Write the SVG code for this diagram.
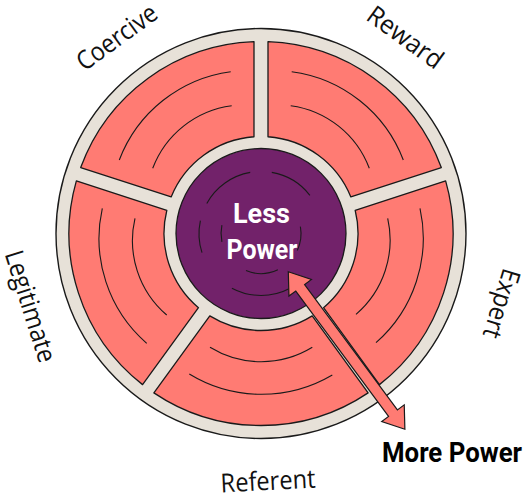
<svg xmlns="http://www.w3.org/2000/svg" width="526" height="498" viewBox="0 0 526 498">
<style>
.seg{fill:#FF7B73;stroke:#1a1a1a;stroke-width:1.3;stroke-linejoin:round}
.ln{fill:none;stroke:#1a1a1a;stroke-width:1.1}
.lbl{font-family:"Open Sans","Liberation Sans",sans-serif;font-size:26px;fill:#111;text-anchor:middle}
.big{font-family:Roboto,"Liberation Sans",sans-serif;font-weight:700;font-size:27px}
</style>
<defs>
<path id="sector" d="M -107.12 -159.34 A 192 192 0 0 1 107.12 -159.34 L 51.20 -82.39 A 97 97 0 0 0 -51.20 -82.39 Z"/>
</defs>
<rect width="526" height="498" fill="#ffffff"/>
<circle id="ring" cx="261" cy="233.5" r="205" fill="#E7E1D8" stroke="#1a1a1a" stroke-width="1.4"/>
<g id="coercive">
<use href="#sector" class="seg" transform="translate(261 233.5) rotate(-36)"/>
<path class="ln" d="M 119.3 160 A 139 139 0 0 1 230.7 71.7"/>
<path class="ln" d="M 152.7 168.3 A 98 98 0 0 1 231.7 105.7"/>
<text class="lbl" transform="translate(122 44.5) rotate(-36)" textLength="93" lengthAdjust="spacingAndGlyphs">Coercive</text>
</g>
<g id="reward">
<use href="#sector" class="seg" transform="translate(261 233.5) rotate(36)"/>
<path class="ln" d="M 291.7 71.7 A 139 139 0 0 1 403.3 160"/>
<path class="ln" d="M 290.7 105.7 A 98 98 0 0 1 369.3 168.3"/>
<text class="lbl" transform="translate(400 44.5) rotate(36)" textLength="87" lengthAdjust="spacingAndGlyphs">Reward</text>
</g>
<g id="expert">
<use href="#sector" class="seg" transform="translate(261 233.5) rotate(108)"/>
<path class="ln" d="M 420 208.3 A 139 139 0 0 1 376 342.7"/>
<path class="ln" d="M 387.7 218.3 A 98 98 0 0 1 356 314.3"/>
<text class="lbl" transform="translate(493 301) rotate(107)" textLength="71" lengthAdjust="spacingAndGlyphs">Expert</text>
</g>
<g id="referent">
<use href="#sector" class="seg" transform="translate(261 233.5) rotate(180)"/>
<path class="ln" d="M 332.3 375 A 139 139 0 0 1 189.3 374"/>
<path class="ln" d="M 312.3 347.3 A 98 98 0 0 1 210 347.3"/>
<text class="lbl" transform="translate(268.5 490) rotate(-3)" textLength="95" lengthAdjust="spacingAndGlyphs">Referent</text>
</g>
<g id="legitimate">
<use href="#sector" class="seg" transform="translate(261 233.5) rotate(252)"/>
<path class="ln" d="M 146.7 343.3 A 139 139 0 0 1 102.3 208.3"/>
<path class="ln" d="M 166.7 315 A 98 98 0 0 1 135 218.3"/>
<text class="lbl" transform="translate(22 309) rotate(72.5)" textLength="116" lengthAdjust="spacingAndGlyphs">Legitimate</text>
</g>
<g id="center">
<circle cx="261" cy="233.5" r="85" fill="#72226A" stroke="#1a1a1a" stroke-width="1.3"/>
<path class="ln" d="M 206.8 203.4 A 62 62 0 0 1 250.2 172.4"/>
<path class="ln" d="M 271.8 172.4 A 62 62 0 0 1 309.9 195.3"/>
<path class="ln" d="M 202.0 252.7 A 62 62 0 0 1 200.4 220.6"/>
<path class="ln" d="M 290.1 288.2 A 62 62 0 0 1 231.9 288.2"/>
<path class="ln" d="M 221.9 241.8 A 40 40 0 0 1 221.9 225.2"/>
<path class="ln" d="M 300.4 226.6 A 40 40 0 0 1 297.3 250.4"/>
<path class="ln" d="M 277.9 269.8 A 40 40 0 0 1 246.0 270.6"/>
<text class="big" x="261.5" y="223.3" fill="#ffffff" text-anchor="middle" textLength="57" lengthAdjust="spacingAndGlyphs">Less</text>
<text class="big" x="262" y="259" fill="#ffffff" text-anchor="middle" textLength="71" lengthAdjust="spacingAndGlyphs">Power</text>
</g>
<g id="connectors">
<path d="M 0 0 L 20 -14 L 20 -5.5 L 176 -5.5 L 176 -14 L 196 0 L 176 14 L 176 5.5 L 20 5.5 L 20 14 Z" fill="#FF7B73" stroke="#1a1a1a" stroke-width="1.2" stroke-linejoin="miter" transform="translate(288.3 271.7) rotate(53.5)"/>
</g>
<g id="more-power">
<text class="big" x="382" y="462" fill="#000000" textLength="140" lengthAdjust="spacingAndGlyphs">More Power</text>
</g>
</svg>
